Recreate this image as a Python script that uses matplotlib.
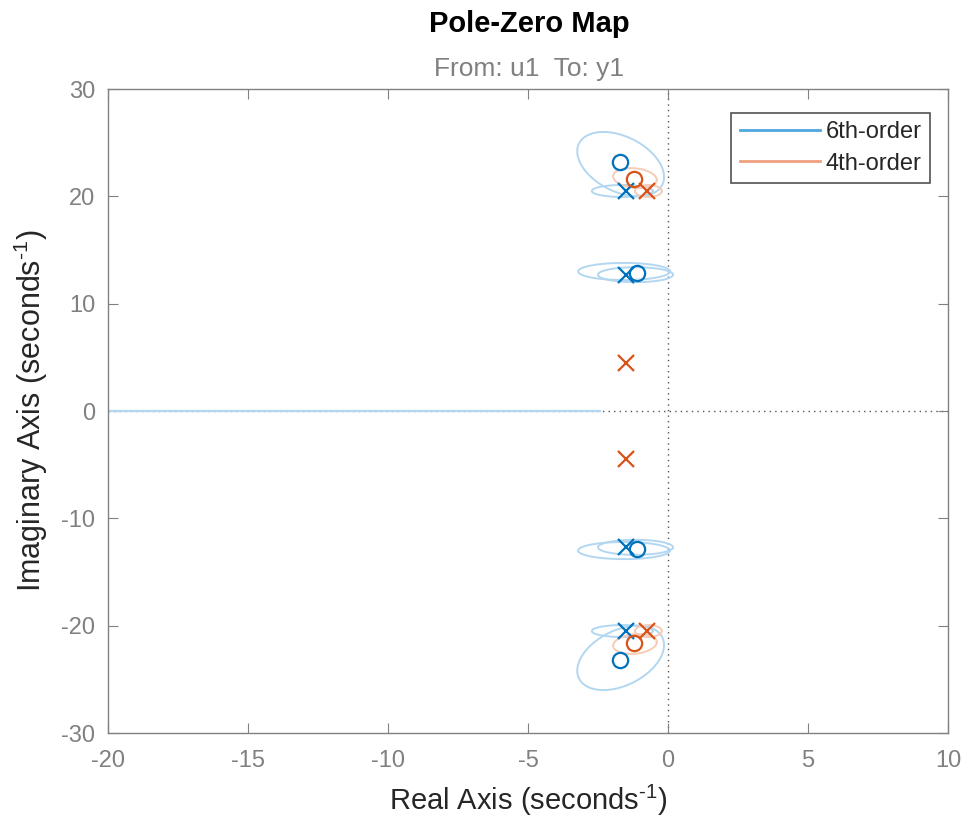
import numpy as np
import matplotlib
matplotlib.use("Agg")
import matplotlib.pyplot as plt

plt.rcParams['font.family'] = ['Liberation Sans', 'DejaVu Sans']
plt.rcParams['axes.unicode_minus'] = False
plt.rcParams['mathtext.fontset'] = 'custom'
plt.rcParams['mathtext.rm'] = 'Liberation Sans'

# Poles and zeros (upper half-plane; conjugates mirrored)
poles6_re = [-1.5, -1.5]
poles6_im = [20.5, 12.7]
zeros6_re = [-1.7, -1.1]
zeros6_im = [23.2, 12.9]
poles4_re = [-0.75, -1.5]
poles4_im = [20.5, 4.5]
zeros4_re = [-1.2]
zeros4_im = [21.6]

# Uncertainty ellipses: center re/im, radius re/im, phase shift (rad)
ell6_cx = [-1.69, -1.63, -1.57, -1.16]
ell6_cy = [23.0, 20.5, 13.0, 12.7]
ell6_rx = [1.55, 1.09, 1.64, 1.34]
ell6_ry = [3.0, 0.56, 0.8, 0.7]
ell6_d = [1.98, 1.5708, 1.5708, 1.5708]
ell4_cx = [-1.18, -0.70]
ell4_cy = [21.7, 20.5]
ell4_rx = [0.78, 0.48]
ell4_ry = [0.93, 0.56]
ell4_d = [1.75, 1.5708]

# Real-axis uncertainty segment of the 6th-order model
seg6_re = [-25.0, -2.43]

blue = '#0072BD'
orange = '#D95319'
blue_light = '#B3D7F0'
orange_light = '#F6CBB8'

fig = plt.figure(figsize=(9.7, 8.25), dpi=100)
ax = fig.add_axes([0.1113, 0.1115, 0.866, 0.7806])

t = np.linspace(0, 2 * np.pi, 300)


def draw_ellipses(cx, cy, rx, ry, d, color):
    for a, b, c, e, ph in zip(cx, cy, rx, ry, d):
        for s in (1, -1):
            ax.plot(a + c * np.cos(t), s * (b + e * np.cos(t - ph)),
                    color=color, lw=1.4, zorder=2)


# reference lines
ax.axvline(0, color='#555555', ls=(0, (1, 3)), lw=1.0, zorder=1)
ax.axhline(0, color='#555555', ls=(0, (1, 3)), lw=1.0, zorder=1)

ax.plot(seg6_re, [0, 0], color=blue_light, lw=1.6, zorder=2)
draw_ellipses(ell6_cx, ell6_cy, ell6_rx, ell6_ry, ell6_d, blue_light)
draw_ellipses(ell4_cx, ell4_cy, ell4_rx, ell4_ry, ell4_d, orange_light)


def mirror(re, im):
    return list(re) + list(re), list(im) + [-v for v in im]


pr, pi = mirror(poles6_re, poles6_im)
ax.plot(pr, pi, 'x', color=blue, ms=11, mew=1.6, ls='none', zorder=4)
zr, zi = mirror(zeros6_re, zeros6_im)
ax.plot(zr, zi, 'o', color=blue, ms=11, mew=1.6, mfc='none', ls='none', zorder=4)
pr, pi = mirror(poles4_re, poles4_im)
ax.plot(pr, pi, 'x', color=orange, ms=11, mew=1.6, ls='none', zorder=4)
zr, zi = mirror(zeros4_re, zeros4_im)
ax.plot(zr, zi, 'o', color=orange, ms=11, mew=1.6, mfc='none', ls='none', zorder=4)

# legend proxies
l1, = ax.plot([], [], color='#4DA6E0', lw=2, label='6th-order')
l2, = ax.plot([], [], color='#F0A07E', lw=2, label='4th-order')
leg = ax.legend(handles=[l1, l2], loc='upper right', fontsize=17,
                frameon=True, fancybox=False, edgecolor='#262626',
                handlelength=3.4, handletextpad=0.25, borderpad=0.35,
                labelspacing=0.4, borderaxespad=0,
                bbox_to_anchor=(930 / 970, 1 - 113 / 825),
                bbox_transform=fig.transFigure)
leg.get_frame().set_linewidth(1.2)
for txt in leg.get_texts():
    txt.set_color('#262626')

ax.set_xlim(-20, 10)
ax.set_ylim(-30, 30)
ax.set_xticks([-20, -15, -10, -5, 0, 5, 10])
ax.set_yticks([-30, -20, -10, 0, 10, 20, 30])
ax.tick_params(direction='in', top=True, right=True, length=7,
               colors='#808080', labelsize=17)
ax.tick_params(axis='x', pad=12)
ax.tick_params(axis='y', pad=9)
for sp in ax.spines.values():
    sp.set_color('#808080')
    sp.set_linewidth(1.0)

ax.set_xlabel('Real Axis (seconds$^{\\text{-1}}$)', fontsize=21,
              color='#262626', labelpad=8)
ax.set_ylabel('Imaginary Axis (seconds$^{\\text{-1}}$)', fontsize=22,
              color='#262626', labelpad=8)
fig.text(0.5455, 0.971, 'Pole-Zero Map', ha='center', va='center',
         fontsize=21, fontweight='bold', color='#000000')
fig.text(0.5455, 0.916, 'From: u1  To: y1', ha='center', va='center',
         fontsize=19, color='#808080')

fig.savefig('out.png', dpi=100)
